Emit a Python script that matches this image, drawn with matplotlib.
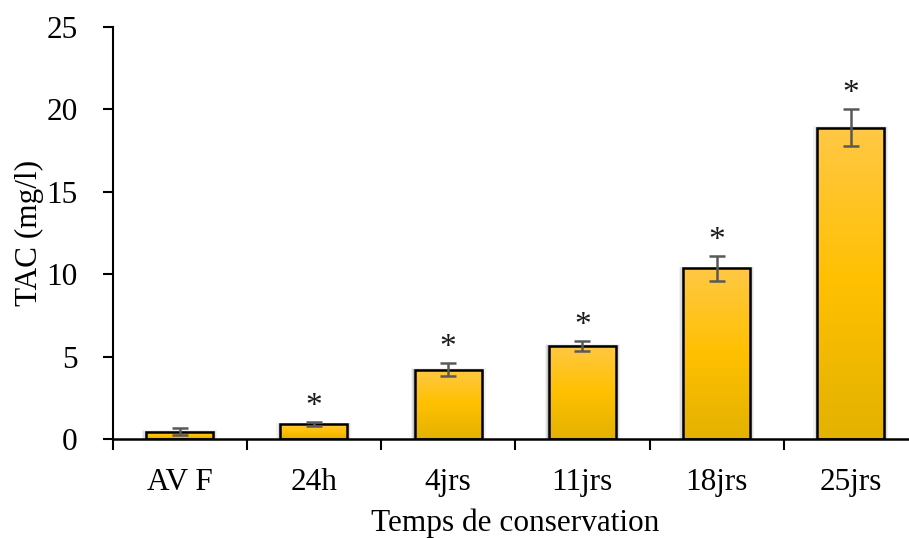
import numpy as np
import matplotlib
matplotlib.use("Agg")
import matplotlib.pyplot as plt
from matplotlib.colors import LinearSegmentedColormap
from matplotlib.patches import Rectangle

plt.rcParams['font.family'] = ['Liberation Serif', 'DejaVu Serif']

# TAC par temps de conservation
categories = ['AV F', '24h', '4jrs', '11jrs', '18jrs', '25jrs']
tac = [0.45, 0.9, 4.2, 5.65, 10.35, 18.9]
err = [0.2, 0.12, 0.4, 0.3, 0.75, 1.1]
signif = ['', '*', '*', '*', '*', '*']

W, H = 909, 538
fig = plt.figure(figsize=(W / 100, H / 100), dpi=100)
x0, x1 = 112.5, 918.0
y0, y1 = 439.0, 27.0
ax = fig.add_axes([x0 / W, (H - y0) / H, (x1 - x0) / W, (y0 - y1) / H])

# degrade jaune des barres
cmap = LinearSegmentedColormap.from_list('jaune', ['#E3B200', '#FFC000', '#FFC845'])
grad = np.linspace(0, 1, 256).reshape(-1, 1)

xpos = np.arange(len(categories))
width = 0.5
bars = ax.bar(xpos, tac, width=width, color='none', edgecolor='black', linewidth=1.8, zorder=3)
for b in bars:
    bx, by = b.get_x(), b.get_y()
    bw, bh = b.get_width(), b.get_height()
    # ombre legere
    for k, a in zip([0.06, 0.04, 0.02], [0.05, 0.08, 0.12]):
        ax.add_patch(Rectangle((bx - k * 0.5, by), bw + k, bh + k * 1.5,
                               facecolor='black', edgecolor='none', alpha=a, zorder=1))
    im = ax.imshow(grad, extent=[bx, bx + bw, by, by + bh], origin='lower',
                   cmap=cmap, aspect='auto', zorder=2)
    im.set_clip_path(b)

ax.errorbar(xpos, tac, yerr=err, fmt='none', ecolor='#595959', elinewidth=1.8,
            capsize=6, capthick=1.8, zorder=4)

for xi, v, e, s in zip(xpos, tac, err, signif):
    if s:
        ax.annotate(s, (xi, v + e), xytext=(0, 0), textcoords='offset points',
                    ha='center', va='bottom', fontsize=24, color='#1a1a1a')

ax.set_xlim(-0.5, 5.5)
ax.set_ylim(0, 25)
ax.set_yticks([0, 5, 10, 15, 20, 25])
ax.set_xticks(xpos)
ax.set_xticklabels(categories)
ax.set_xticks(np.arange(-0.5, 5.0, 1.0), minor=True)
ax.tick_params(axis='x', which='major', length=0, pad=21, labelsize=22.5)
ax.tick_params(axis='x', which='minor', length=8, width=1.5, direction='out')
ax.tick_params(axis='y', length=7, width=1.5, direction='out', pad=18, labelsize=22.5)

for s in ['top', 'right']:
    ax.spines[s].set_visible(False)
ax.spines['left'].set_linewidth(1.5)
ax.spines['bottom'].set_linewidth(1.8)

ax.set_xlabel('Temps de conservation', fontsize=22.5, labelpad=8)
ax.set_ylabel('TAC (mg/l)', fontsize=22.5, labelpad=1.5)

fig.savefig('out.png', dpi=100)
